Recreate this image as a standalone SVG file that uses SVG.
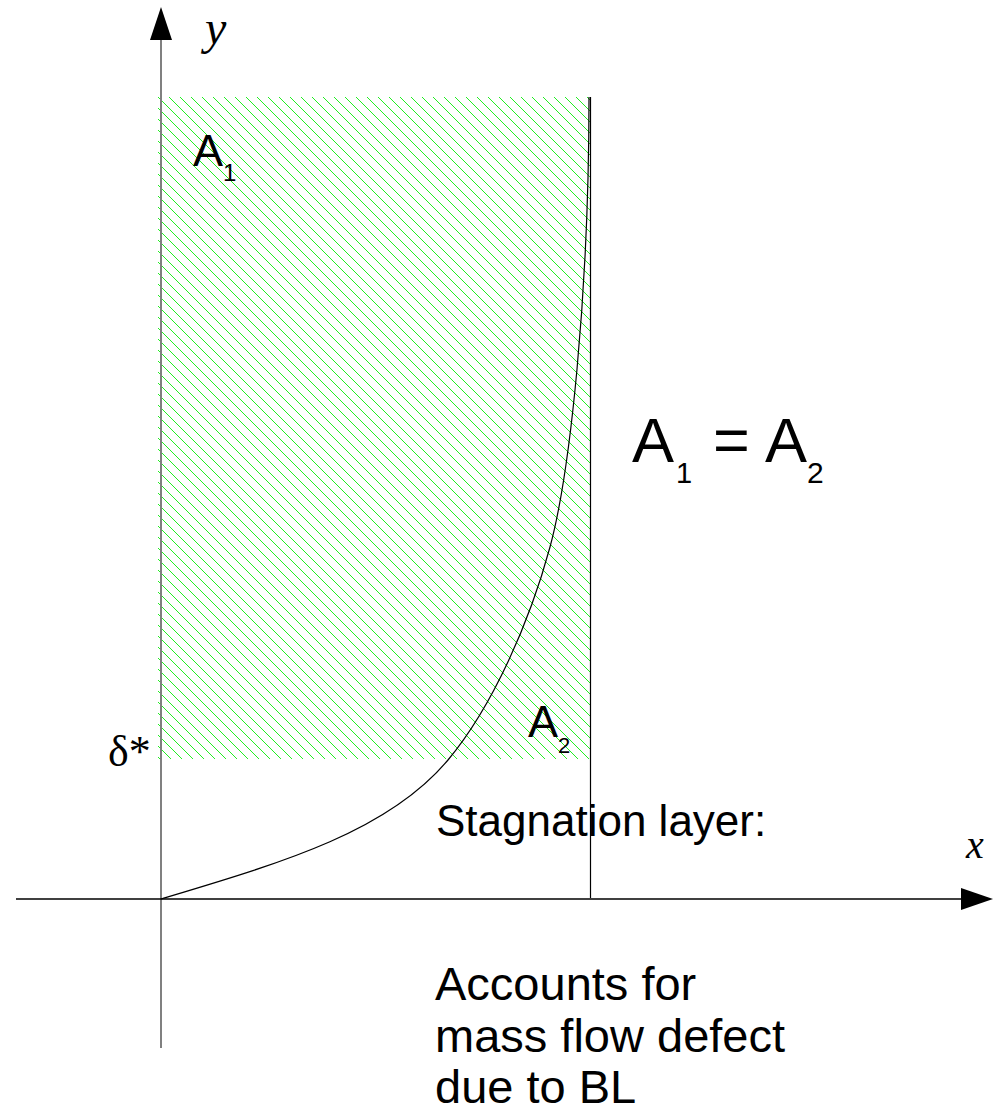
<svg xmlns="http://www.w3.org/2000/svg" width="996" height="1111" viewBox="0 0 996 1111">
<style>
.sans{font-family:"Liberation Sans",Arial,sans-serif;fill:#000}
.serif{font-family:"Liberation Serif","Times New Roman",serif;fill:#000}
.ital{font-style:italic}
</style>
<defs>
<pattern id="hatch" patternUnits="userSpaceOnUse" x="6" y="0" width="11" height="11">
<path d="M-1,-1 L12,12 M-1,10 L1,12 M10,-1 L12,1" stroke="#22ee22" stroke-width="1" fill="none" shape-rendering="crispEdges"/>
</pattern>
</defs>
<rect width="996" height="1111" fill="#fff"/>
<g id="hatched-area">
<rect x="158" y="97" width="433" height="662" fill="url(#hatch)"/>
</g>
<g id="connectors">
<line x1="161" y1="40" x2="161" y2="1048" stroke="#808080" stroke-width="2"/>
<polygon points="150,40 161,7 172,40" fill="#000"/>
<line x1="16" y1="899" x2="962" y2="899" stroke="#000" stroke-width="1.5"/>
<polygon points="961,888 993,899 961,910" fill="#000"/>
<line x1="590.5" y1="97" x2="590.5" y2="898" stroke="#000" stroke-width="1.2"/>
<path d="M161,899 C281,863 388,832 448,760 C493,706 530,621 550,547 C570,473 589,297 589,97" fill="none" stroke="#000" stroke-width="1.2"/>
</g>
<g id="label-y"><text class="serif ital" x="205" y="44" font-size="48">y</text></g>
<g id="label-x"><text class="serif ital" x="966" y="858" font-size="40">x</text></g>
<g id="label-delta"><text class="serif" x="108" y="766" font-size="44">δ*</text></g>
<g id="label-A1"><text class="sans" x="193" y="166" font-size="45">A<tspan font-size="24" dy="15">1</tspan></text></g>
<g id="label-A2"><text class="sans" x="528" y="737" font-size="45">A<tspan font-size="22" dy="16">2</tspan></text></g>
<g id="equation"><text class="sans" font-size="63"><tspan x="632" y="462">A</tspan><tspan x="676" y="483" font-size="29">1</tspan><tspan x="713" y="462">=</tspan><tspan x="765" y="462">A</tspan><tspan x="807" y="483" font-size="30">2</tspan></text></g>
<g id="label-stagnation"><text class="sans" x="436" y="836" font-size="44">Stagnation layer:</text></g>
<g id="label-accounts"><text class="sans" font-size="47"><tspan x="435" y="1000">Accounts for</tspan><tspan x="435" y="1052">mass flow defect</tspan><tspan x="435" y="1103">due to BL</tspan></text></g>
</svg>
